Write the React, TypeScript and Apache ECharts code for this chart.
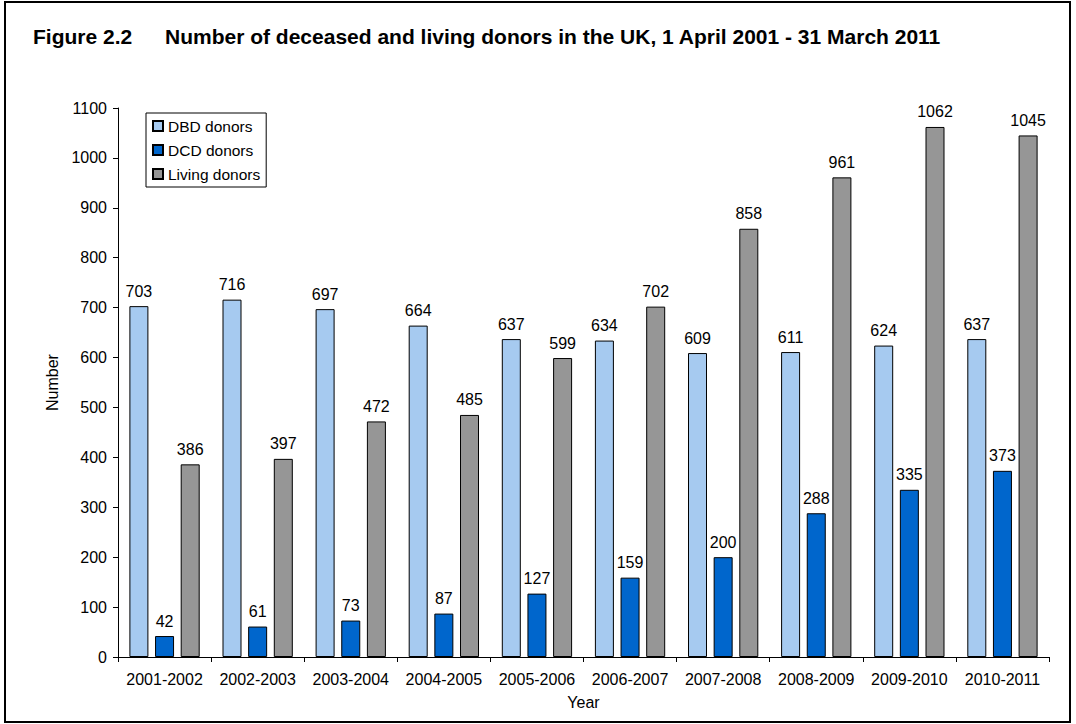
import React, { useEffect, useRef } from "react";
import * as echarts from "echarts";

const categories = [
  "2001-2002", "2002-2003", "2003-2004", "2004-2005", "2005-2006",
  "2006-2007", "2007-2008", "2008-2009", "2009-2010", "2010-2011",
];
const dbdDonors = [703, 716, 697, 664, 637, 634, 609, 611, 624, 637];
const dcdDonors = [42, 61, 73, 87, 127, 159, 200, 288, 335, 373];
const livingDonors = [386, 397, 472, 485, 599, 702, 858, 961, 1062, 1045];
const seriesNames = ["DBD donors", "DCD donors", "Living donors"];
const seriesColors = ["#A6CAF0", "#0066CC", "#969696"];

const FONT = 'Arial, "Liberation Sans", Helvetica, sans-serif';

export default function App() {
  const ref = useRef<HTMLDivElement>(null);
  useEffect(() => {
    if (!ref.current) return;
    const chart = echarts.init(ref.current, null, { renderer: "svg" });
    const datasets = [dbdDonors, dcdDonors, livingDonors];
    chart.setOption({
      animation: false,
      backgroundColor: "#ffffff",
      textStyle: { fontFamily: FONT, color: "#000" },
      grid: { left: 118, right: 27, top: 108, bottom: 67 },
      legend: {
        orient: "vertical",
        left: 146,
        top: 113,
        padding: [5, 6, 5, 6],
        itemGap: 8,
        itemWidth: 10,
        itemHeight: 10,
        icon: "rect",
        borderColor: "#000",
        borderWidth: 1,
        borderRadius: 0,
        backgroundColor: "#fff",
        textStyle: { fontFamily: FONT, fontSize: 15.5, color: "#000" },
        data: seriesNames,
      },
      xAxis: {
        type: "category",
        data: categories,
        name: "Year",
        nameLocation: "middle",
        nameGap: 37,
        nameTextStyle: { fontFamily: FONT, fontSize: 16, color: "#000" },
        axisLine: { lineStyle: { color: "#000", width: 1 } },
        axisTick: { show: true, length: 5, lineStyle: { color: "#000" } },
        axisLabel: { fontFamily: FONT, fontSize: 16, color: "#000", margin: 14, interval: 0 },
      },
      yAxis: {
        type: "value",
        min: 0,
        max: 1100,
        interval: 100,
        name: "Number",
        nameLocation: "middle",
        nameGap: 58,
        nameTextStyle: { fontFamily: FONT, fontSize: 16, color: "#000" },
        axisLine: { show: true, lineStyle: { color: "#000", width: 1 } },
        axisTick: { show: true, length: 5, lineStyle: { color: "#000" } },
        axisLabel: {
          fontFamily: FONT,
          fontSize: 16,
          color: "#000",
          margin: 11,
          formatter: (v: number) => String(v),
        },
        splitLine: { show: false },
      },
      series: datasets.map((d, i) => ({
        name: seriesNames[i],
        type: "bar",
        data: d,
        barWidth: 19,
        barGap: "35%",
        itemStyle: { color: seriesColors[i], borderColor: "#000", borderWidth: 1 },
        label: {
          show: true,
          position: "top",
          distance: 7,
          fontFamily: FONT,
          fontSize: 16,
          color: "#000",
        },
      })),
      graphic: [
        {
          type: "rect",
          shape: { x: 5, y: 2, width: 1065, height: 720 },
          style: { fill: "none", stroke: "#000", lineWidth: 2 },
          silent: true,
        },
        {
          type: "text",
          x: 33,
          y: 47,
          style: {
            text: "Figure 2.2",
            fontFamily: FONT,
            fontSize: 21,
            fontWeight: "bold",
            fill: "#000",
            textVerticalAlign: "bottom",
          },
        },
        {
          type: "text",
          x: 165,
          y: 47,
          style: {
            text: "Number of deceased and living donors in the UK, 1 April 2001 - 31 March 2011",
            fontFamily: FONT,
            fontSize: 21,
            fontWeight: "bold",
            fill: "#000",
            textVerticalAlign: "bottom",
          },
        },
      ],
    });
    return () => chart.dispose();
  }, []);
  return (
    <div
      ref={ref}
      style={{ position: "absolute", left: 0, top: 0, width: 1076, height: 724, background: "#fff" }}
    />
  );
}
